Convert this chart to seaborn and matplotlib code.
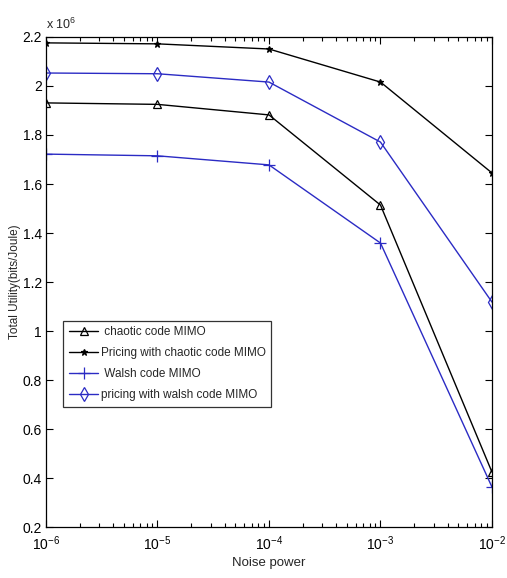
import numpy as np
import pandas as pd
import matplotlib
matplotlib.use("Agg")
import matplotlib.pyplot as plt
import seaborn as sns

# datos (utilidad en unidades de 10^6)
noise = [1e-6, 1e-5, 1e-4, 1e-3, 1e-2]
chaotic = [1.931, 1.925, 1.882, 1.514, 0.424]
pricing_chaotic = [2.176, 2.172, 2.151, 2.016, 1.645]
walsh = [1.722, 1.715, 1.678, 1.359, 0.363]
pricing_walsh = [2.053, 2.050, 2.016, 1.771, 1.118]

labels = [" chaotic code MIMO", "Pricing with chaotic code MIMO",
          " Walsh code MIMO", "pricing with walsh code MIMO"]

sns.set_style("ticks")
plt.rcParams['font.family'] = ['Liberation Sans', 'DejaVu Sans']
plt.rcParams['mathtext.fontset'] = 'custom'
plt.rcParams['mathtext.rm'] = 'Liberation Sans'

fig = plt.figure(figsize=(5.07, 5.78), dpi=100)
ax = fig.add_axes([0.0907, 0.0882, 0.8797, 0.8478])

blue = "#2b2bc4"
series = [
    (chaotic, "black", "^", 6, labels[0]),
    (pricing_chaotic, "black", "*", 5, labels[1]),
    (walsh, blue, "+", 8, labels[2]),
    (pricing_walsh, blue, "d", 7, labels[3]),
]

for vals, col, mk, ms, lab in series:
    df = pd.DataFrame({"noise": noise, "util": vals})
    sns.lineplot(data=df, x="noise", y="util", ax=ax, color=col, marker=mk,
                 markersize=ms, markerfacecolor="none" if mk in "^d" else col,
                 markeredgecolor=col, markeredgewidth=0.9, linewidth=1.0,
                 label=lab)

ax.set_xscale("log")
ax.set_xlim(1e-6, 1e-2)
ax.set_ylim(0.2, 2.2)
ax.set_yticks(np.arange(0.2, 2.21, 0.2))
ax.set_yticklabels(["0.2", "0.4", "0.6", "0.8", "1", "1.2", "1.4", "1.6",
                    "1.8", "2", "2.2"])
ax.tick_params(axis="both", which="both", direction="in", top=True,
               right=True, labelsize=10, colors="black")
ax.tick_params(axis="x", pad=5)
ax.tick_params(axis="y", pad=3)
ax.tick_params(which="major", length=5, width=0.8)
ax.tick_params(which="minor", length=3, width=0.8)
for s in ax.spines.values():
    s.set_linewidth(0.9)
    s.set_color("black")

ax.set_xlabel("Noise power", fontsize=9.5, labelpad=3)
ax.set_ylabel("Total Utility(bits/Joule)", fontsize=8.5, labelpad=1)
ax.text(0.0, 1.01, r"x 10$^6$", transform=ax.transAxes, fontsize=9,
        ha="left", va="bottom")

leg = ax.legend(loc="lower left", bbox_to_anchor=(0.038, 0.245),
                fontsize=8.5, frameon=True, fancybox=False, handlelength=2.5,
                borderaxespad=0, labelspacing=0.75, handletextpad=0.2,
                borderpad=0.5)
leg.get_frame().set_edgecolor("black")
leg.get_frame().set_linewidth(0.9)

fig.savefig("out.png", dpi=100)
